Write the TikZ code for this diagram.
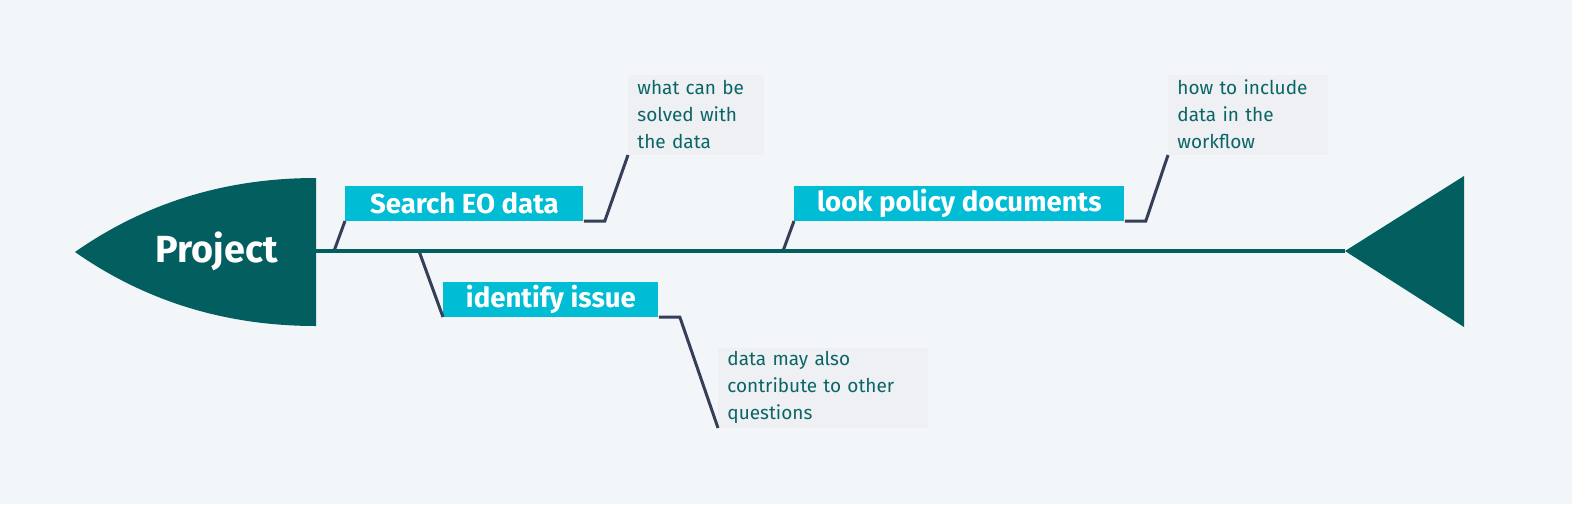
\documentclass[tikz,border=0pt]{standalone}
\usepackage{fontspec}
\setmainfont{Fira Sans}
\usetikzlibrary{positioning}
\definecolor{bgcol}{HTML}{F3F6F9}
\definecolor{fishteal}{HTML}{035F5F}
\definecolor{causecol}{HTML}{00BCD4}
\definecolor{notecol}{HTML}{EEF0F3}
\definecolor{notetext}{HTML}{0B6566}
\definecolor{bonecol}{HTML}{353F58}

\begin{document}
\begin{tikzpicture}[x=0.5pt,y=-0.5pt,
    spine/.style={draw=fishteal,line width=2pt},
    bone/.style={draw=bonecol,line width=1.5pt,line join=miter},
    cause/.style={fill=causecol,text=white,font=\bfseries\fontsize{13.8}{16}\selectfont,minimum height=17.5pt,inner sep=0pt,anchor=south west},
    note/.style={fill=notecol,text=notetext,font=\fontsize{9.5}{13.5}\selectfont,align=left,minimum height=40pt,inner xsep=4.5pt,inner ysep=0pt,anchor=south west}]

    \fill[bgcol] (0,0) rectangle (1572,504);

    % head and tail of the fish
    \fill[fishteal] (75,252) .. controls (145,203) and (225,178) .. (316,178) -- (316,326) .. controls (225,326) and (145,301) .. (75,252) -- cycle;
    \coordinate (neck) at (316,251);
    \coordinate (tail) at (1345,251);
    \fill[fishteal] (tail) -- (1464,176) -- (1464,327) -- cycle;
    \node[text=white,font=\bfseries\fontsize{18.9}{22}\selectfont] (project) at (217,251) {Project};

    \coordinate (s1) at (334,251);
    \coordinate (s2) at (783,251);
    \coordinate (s3) at (419,251);

    \node[cause,minimum width=119pt] (search) at (345,221) {Search EO data};
    \node[cause,minimum width=165pt] (policy) at (794,221) {look policy documents};
    \node[cause,minimum width=107.5pt] (issue) at (443,317) {identify issue};

    \node[note,text width=59pt] (solved) at (628,155) {what can be\\solved with\\the data};
    \node[note,text width=71pt] (workflow) at (1168,155) {how to include\\data in the\\workflow};
    \node[note,text width=96pt] (questions) at (718,428) {data may also\\contribute to other\\questions};

    \draw[bone] (s1) -- (search.south west);
    \draw[bone] (search.south east) -- ++(21,0) -- (solved.south west);
    \draw[bone] (s2) -- (policy.south west);
    \draw[bone] (policy.south east) -- ++(21,0) -- (workflow.south west);
    \draw[bone] (s3) -- (issue.south west);
    \draw[bone] (issue.south east) -- ++(21,0) -- (questions.south west);

    \draw[spine] (neck) -- (tail);
\end{tikzpicture}
\end{document}
